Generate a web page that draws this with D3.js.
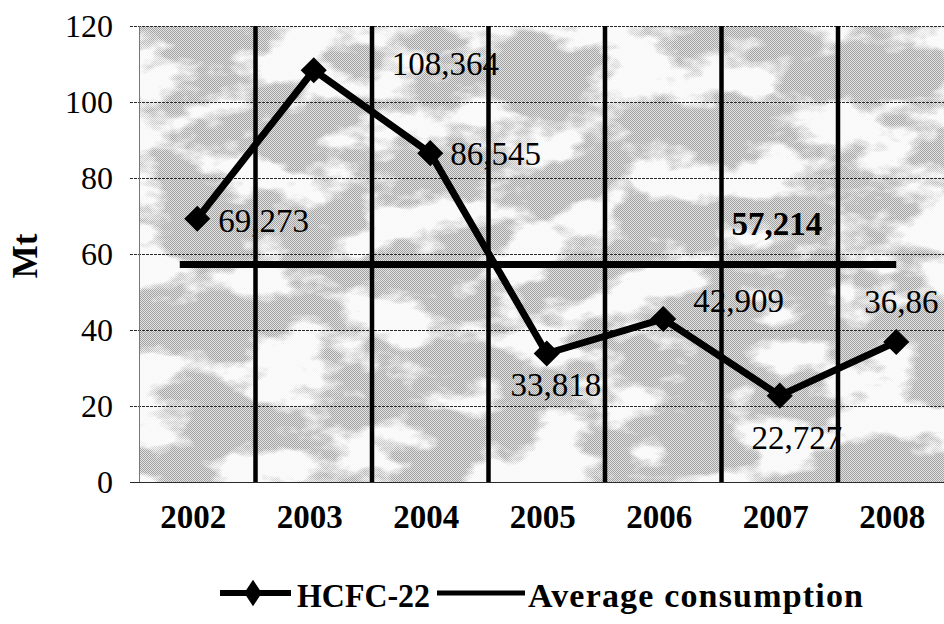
<!DOCTYPE html>
<html>
<head>
<meta charset="utf-8">
<script src="https://cdn.jsdelivr.net/npm/d3@7"></script>
<style>
  html, body { margin: 0; padding: 0; background: #fff; }
  svg { display: block; }
  text { font-family: "Liberation Serif", "Times New Roman", serif; fill: #000; }
</style>
</head>
<body>
<svg id="chart" width="944" height="624"></svg>
<script>
// HCFC-22 consumption by year (Mt)
const years = ["2002", "2003", "2004", "2005", "2006", "2007", "2008"];
const hcfc22 = [69.273, 108.364, 86.545, 33.818, 42.909, 22.727, 36.86];
const averageConsumption = 57.214;
const yTicks = [0, 20, 40, 60, 80, 100, 120];
const seriesNames = ["HCFC-22", "Average consumption"];

// where each value label sits relative to its point
const labelPlacement = {
  "2002": { dx: 21, dy: 13, anchor: "start" },
  "2003": { dx: 78, dy: 5, anchor: "start" },
  "2004": { dx: 20, dy: 12, anchor: "start" },
  "2005": { dx: 9, dy: 43, anchor: "middle" },
  "2006": { dx: 30, dy: -7, anchor: "start" },
  "2007": { dx: 17, dy: 53, anchor: "middle" },
  "2008": { dx: 5, dy: -29, anchor: "middle" }
};

const fmt = v => String(v).replace(".", ",");

const svg = d3.select("#chart");
const plot = { left: 139, top: 26, bottom: 482, band: 116.5 };
plot.right = plot.left + plot.band * years.length;

const x = d3.scaleBand().domain(years).range([plot.left, plot.right]).padding(0);
const y = d3.scaleLinear().domain([0, 120]).range([plot.bottom, plot.top]);
const cx = d => x(d) + x.bandwidth() / 2;

// background texture: fine grey dither with pale blotches
const defs = svg.append("defs");
const pat = defs.append("pattern").attr("id", "dither")
  .attr("patternUnits", "userSpaceOnUse").attr("width", 2).attr("height", 2);
pat.append("rect").attr("width", 2).attr("height", 2).attr("fill", "#e2e2e2");
pat.append("rect").attr("width", 1).attr("height", 1).attr("fill", "#a2a2a2");
pat.append("rect").attr("x", 1).attr("y", 1).attr("width", 1).attr("height", 1).attr("fill", "#a2a2a2");

const f = defs.append("filter").attr("id", "blotch")
  .attr("x", 0).attr("y", 0).attr("width", 1).attr("height", 1)
  .attr("filterUnits", "objectBoundingBox");
f.append("feTurbulence").attr("type", "fractalNoise")
  .attr("baseFrequency", "0.012 0.02").attr("numOctaves", 5).attr("seed", 11).attr("result", "n");
f.append("feColorMatrix").attr("in", "n").attr("type", "matrix")
  .attr("values", "0 0 0 0 1  0 0 0 0 1  0 0 0 0 1  7 0 0 0 -3.25");

const clip = defs.append("clipPath").attr("id", "plotClip");
clip.append("rect").attr("x", plot.left).attr("y", plot.top)
  .attr("width", plot.right - plot.left).attr("height", plot.bottom - plot.top);

const bg = svg.append("g").attr("clip-path", "url(#plotClip)");
bg.append("rect").attr("x", plot.left).attr("y", plot.top)
  .attr("width", plot.right - plot.left).attr("height", plot.bottom - plot.top)
  .attr("fill", "url(#dither)").attr("shape-rendering", "crispEdges");
bg.append("rect").attr("x", plot.left).attr("y", plot.top)
  .attr("width", plot.right - plot.left).attr("height", plot.bottom - plot.top)
  .attr("fill", "#fff").attr("filter", "url(#blotch)").attr("opacity", 0.92);

// horizontal gridlines with outward ticks
svg.append("g").selectAll("line").data(yTicks).join("line")
  .attr("x1", plot.left - 9).attr("x2", plot.right)
  .attr("y1", d => Math.round(y(d)) + 0.5).attr("y2", d => Math.round(y(d)) + 0.5)
  .attr("stroke", "#2a2a2a").attr("stroke-width", 1)
  .attr("stroke-dasharray", d => d === 0 ? null : "3,1");

// left axis line
svg.append("line").attr("x1", plot.left + 0.5).attr("x2", plot.left + 0.5)
  .attr("y1", plot.top).attr("y2", plot.bottom)
  .attr("stroke", "#777").attr("stroke-width", 1);

// y tick labels
svg.append("g").selectAll("text").data(yTicks).join("text")
  .attr("x", 113).attr("y", d => y(d)).attr("dy", "0.34em")
  .attr("text-anchor", "end").attr("font-size", 32)
  .text(d => d);

// heavy vertical category dividers
const dividers = years.slice(1).map(d => x(d));
svg.append("g").selectAll("line").data(dividers).join("line")
  .attr("x1", d => d).attr("x2", d => d)
  .attr("y1", plot.top).attr("y2", plot.bottom)
  .attr("stroke", "#000").attr("stroke-width", 4.5);

// x category labels
svg.append("g").selectAll("text").data(years).join("text")
  .attr("x", d => cx(d) - 4).attr("y", 528)
  .attr("text-anchor", "middle").attr("font-size", 33).attr("font-weight", "bold")
  .text(d => d);

// y axis title
svg.append("text")
  .attr("transform", "translate(37,256) rotate(-90)")
  .attr("text-anchor", "middle").attr("font-size", 35).attr("font-weight", "bold")
  .text("Mt");

// average consumption line
svg.append("line")
  .attr("x1", x(years[0]) + x.bandwidth() * 0.35).attr("x2", cx(years[years.length - 1]))
  .attr("y1", y(averageConsumption)).attr("y2", y(averageConsumption))
  .attr("stroke", "#000").attr("stroke-width", 7);
svg.append("text")
  .attr("x", cx("2007") - 3).attr("y", y(averageConsumption) - 30)
  .attr("text-anchor", "middle").attr("font-size", 33).attr("font-weight", "bold")
  .text(fmt(averageConsumption));

// HCFC-22 line and diamond markers
const pts = years.map((d, i) => ({ year: d, v: hcfc22[i] }));
svg.append("path").datum(pts)
  .attr("d", d3.line().x(d => cx(d.year)).y(d => y(d.v)))
  .attr("fill", "none").attr("stroke", "#000").attr("stroke-width", 7)
  .attr("stroke-linejoin", "round");

const diamond = d3.symbol().type(d3.symbolSquare).size(340);
svg.append("g").selectAll("path").data(pts).join("path")
  .attr("d", diamond)
  .attr("transform", d => `translate(${cx(d.year)},${y(d.v)}) rotate(45)`)
  .attr("fill", "#000");

// value labels
svg.append("g").selectAll("text").data(pts).join("text")
  .attr("x", d => cx(d.year) + labelPlacement[d.year].dx)
  .attr("y", d => y(d.v) + labelPlacement[d.year].dy)
  .attr("text-anchor", d => labelPlacement[d.year].anchor)
  .attr("font-size", 33)
  .text(d => fmt(d.v));

// legend
const lg = svg.append("g");
lg.append("line").attr("x1", 220).attr("x2", 291).attr("y1", 593).attr("y2", 593)
  .attr("stroke", "#000").attr("stroke-width", 6);
lg.append("path").attr("d", d3.symbol().type(d3.symbolDiamond).size(200))
  .attr("transform", "translate(253,593) scale(1.15,1)").attr("fill", "#000");
lg.append("text").attr("x", 297).attr("y", 607).attr("font-size", 34).attr("font-weight", "bold")
  .attr("textLength", 133).attr("lengthAdjust", "spacingAndGlyphs")
  .text(seriesNames[0]);
lg.append("line").attr("x1", 437).attr("x2", 525).attr("y1", 593).attr("y2", 593)
  .attr("stroke", "#000").attr("stroke-width", 5);
lg.append("text").attr("x", 528).attr("y", 607).attr("font-size", 34).attr("font-weight", "bold")
  .attr("textLength", 335).attr("lengthAdjust", "spacing")
  .text(seriesNames[1]);
</script>
</body>
</html>
